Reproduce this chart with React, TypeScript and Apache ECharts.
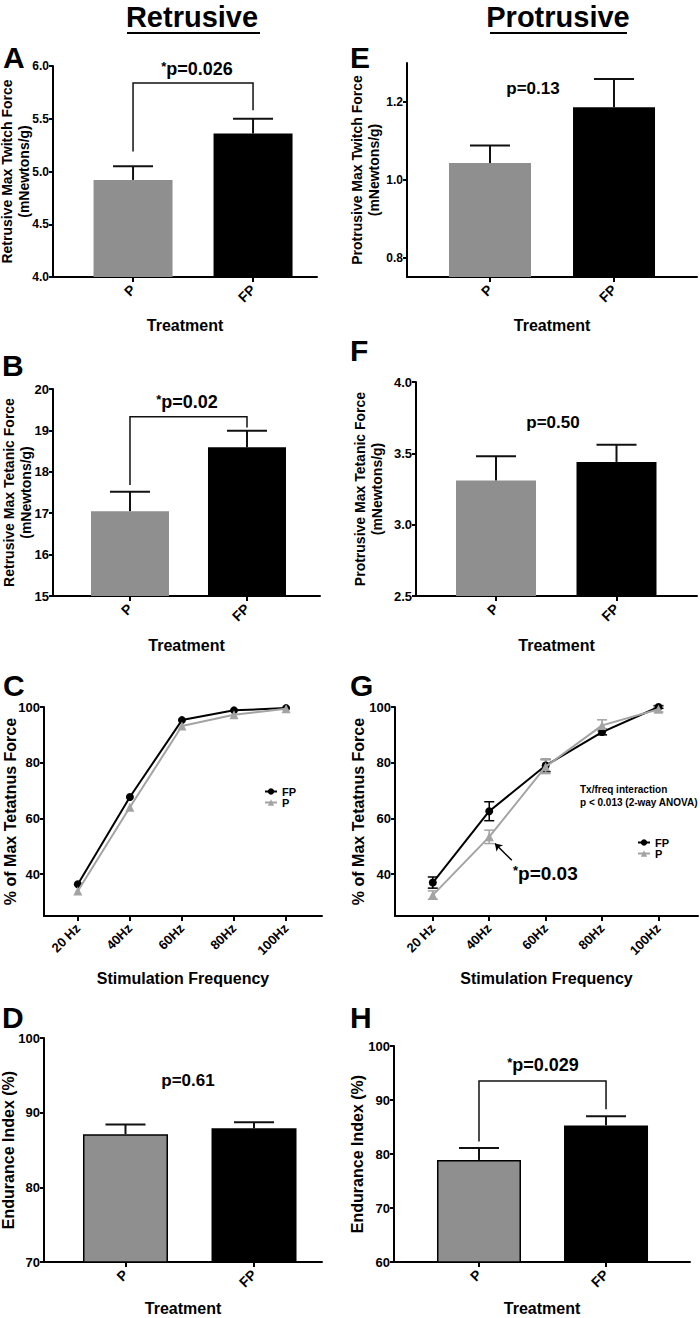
import React, { useEffect, useRef } from 'react';
import * as echarts from 'echarts';

const FONT = '"Liberation Sans", Arial, Helvetica, sans-serif';
const GREY = '#8f8f8f';
const LINE_GREY = '#a3a3a3';

// ---------- data ----------
const treatments = ['P', 'FP'];
const frequencies = ['20 Hz', '40Hz', '60Hz', '80Hz', '100Hz'];

const retrusiveTwitchMean = [4.92, 5.36];
const retrusiveTwitchSem = [0.13, 0.14];
const retrusiveTetanicMean = [17.05, 18.59];
const retrusiveTetanicSem = [0.47, 0.4];
const protrusiveTwitchMean = [1.043, 1.186];
const protrusiveTwitchSem = [0.045, 0.073];
const protrusiveTetanicMean = [3.31, 3.44];
const protrusiveTetanicSem = [0.17, 0.12];
const retrusiveEnduranceMean = [87.1, 87.9];
const retrusiveEnduranceSem = [1.3, 0.8];
const protrusiveEnduranceMean = [78.9, 85.3];
const protrusiveEnduranceSem = [2.2, 1.7];

const retrusiveFreqFP = [36.4, 67.7, 95.3, 98.8, 99.6];
const retrusiveFreqP = [34.0, 64.0, 93.2, 97.2, 99.4];
const protrusiveFreqFP = [37.0, 62.6, 79.0, 91.0, 100.0];
const protrusiveFreqFPSem = [2.0, 3.4, 2.2, 1.0, 0.5];
const protrusiveFreqP = [32.5, 53.4, 78.6, 93.4, 99.2];
const protrusiveFreqPSem = [1.5, 2.4, 2.5, 2.0, 1.0];

// brackets: [level, left leg end, right leg end]
const bracketA = [5.84, 5.19, 5.58];
const bracketB = [19.33, 17.68, 19.07];
const bracketH = [93.5, 82.3, 88.3];

// y tick labels
const ticksA = [4.0, 4.5, 5.0, 5.5, 6.0];
const ticksB = [15, 16, 17, 18, 19, 20];
const ticksE = [0.8, 1.0, 1.2];
const ticksF = [2.5, 3.0, 3.5, 4.0];
const ticksFreq = [40, 60, 80, 100];
const ticksD = [70, 80, 90, 100];
const ticksH = [60, 70, 80, 90, 100];

// arrow in G (data coords): from -> to
const arrowG = [[2.4, 45], [2.1, 51]];

// ---------- layout ----------
const BAR_PANELS: any[] = [
  { id: 'A', grid: { left: 53, top: 66, width: 264, height: 211 }, xRange: [0.333, 2.533], yRange: [4, 6], yTicks: ticksA, decimals: 1, tickFont: 12, yName: 'Retrusive Max Twitch Force\n(mNewtons/g)', yNameGap: 21, yNameSize: 14, means: retrusiveTwitchMean, sems: retrusiveTwitchSem, barWidth: 79, outline: false, xNameGap: 40, bracket: bracketA },
  { id: 'B', grid: { left: 53, top: 389, width: 267, height: 207 }, xRange: [0.342, 2.624], yRange: [15, 20], yTicks: ticksB, decimals: 0, tickFont: 13, yName: 'Retrusive Max Tetanic Force\n(mNewtons/g)', yNameGap: 19, yNameSize: 14, means: retrusiveTetanicMean, sems: retrusiveTetanicSem, barWidth: 78, outline: false, xNameGap: 41, bracket: bracketB },
  { id: 'E', grid: { left: 407, top: 63, width: 290, height: 214 }, xRange: [0.331, 2.669], yRange: [0.75, 1.3], yTicks: ticksE, decimals: 1, tickFont: 12, yName: 'Protrusive Max Twitch Force\n(mNewtons/g)', yNameGap: 25, yNameSize: 14, means: protrusiveTwitchMean, sems: protrusiveTwitchSem, barWidth: 82, outline: false, xNameGap: 40 },
  { id: 'F', grid: { left: 416, top: 382, width: 281, height: 214 }, xRange: [0.336, 2.668], yRange: [2.5, 4.0], yTicks: ticksF, decimals: 1, tickFont: 13, yName: 'Protrusive Max Tetanic Force\n(mNewtons/g)', yNameGap: 31, yNameSize: 14, means: protrusiveTetanicMean, sems: protrusiveTetanicSem, barWidth: 80, outline: false, xNameGap: 41 },
  { id: 'D', grid: { left: 44, top: 1038, width: 278, height: 224 }, xRange: [0.366, 2.529], yRange: [70, 100], yTicks: ticksD, decimals: 0, tickFont: 13, yName: 'Endurance Index (%)', yNameGap: 27, yNameSize: 16, means: retrusiveEnduranceMean, sems: retrusiveEnduranceSem, barWidth: 85, outline: true, xNameGap: 38 },
  { id: 'H', grid: { left: 394, top: 1046, width: 296, height: 216 }, xRange: [0.331, 2.661], yRange: [60, 100], yTicks: ticksH, decimals: 0, tickFont: 13, yName: 'Endurance Index (%)', yNameGap: 28, yNameSize: 16, means: protrusiveEnduranceMean, sems: protrusiveEnduranceSem, barWidth: 84, outline: true, xNameGap: 38, bracket: bracketH },
];

const LINE_PANELS: any[] = [
  { id: 'C', grid: { left: 44, top: 707, width: 278, height: 209 }, xRange: [0.35, 5.69], yNameGap: 26, fp: retrusiveFreqFP, p: retrusiveFreqP },
  { id: 'G', grid: { left: 395, top: 707, width: 303, height: 209 }, xRange: [0.33, 5.7], yNameGap: 29, fp: protrusiveFreqFP, p: protrusiveFreqP, fpSem: protrusiveFreqFPSem, pSem: protrusiveFreqPSem, arrow: arrowG },
];

const bold = (size: number, extra: any = {}) => ({ fontSize: size, fontWeight: 'bold', color: '#000', fontFamily: FONT, ...extra });

const upperErr = (params: any, api: any) => {
  const x = api.value(0), lo = api.value(1), hi = api.value(2);
  const a = api.coord([x, lo]);
  const b = api.coord([x, hi]);
  const st = { stroke: '#111', lineWidth: 2 };
  return {
    type: 'group',
    children: [
      { type: 'line', shape: { x1: a[0], y1: a[1], x2: b[0], y2: b[1] }, style: st },
      { type: 'line', shape: { x1: b[0] - 20, y1: b[1], x2: b[0] + 20, y2: b[1] }, style: st },
    ],
  };
};

const bothErr = (color: string) => (params: any, api: any) => {
  const x = api.value(0), lo = api.value(1), hi = api.value(2);
  const a = api.coord([x, lo]);
  const b = api.coord([x, hi]);
  const st = { stroke: color, lineWidth: 1.5 };
  return {
    type: 'group',
    children: [
      { type: 'line', shape: { x1: a[0], y1: a[1], x2: b[0], y2: b[1] }, style: st },
      { type: 'line', shape: { x1: a[0] - 5, y1: a[1], x2: a[0] + 5, y2: a[1] }, style: st },
      { type: 'line', shape: { x1: b[0] - 5, y1: b[1], x2: b[0] + 5, y2: b[1] }, style: st },
    ],
  };
};

const bracketRender = (params: any, api: any) => {
  const x1 = api.value(0), x2 = api.value(1), top = api.value(2), b1 = api.value(3), b2 = api.value(4);
  const pts = [api.coord([x1, b1]), api.coord([x1, top]), api.coord([x2, top]), api.coord([x2, b2])];
  return { type: 'polyline', shape: { points: pts }, style: { stroke: '#111', lineWidth: 1.5, fill: 'none' } };
};

function buildOption() {
  const grids: any[] = [];
  const xAxes: any[] = [];
  const yAxes: any[] = [];
  const series: any[] = [];
  const axisLine = { show: true, onZero: false, lineStyle: { color: '#000', width: 2 } };
  const tickStyle = { color: '#000', width: 2 };

  BAR_PANELS.forEach((p) => {
    const gi = grids.length;
    grids.push({ ...p.grid, containLabel: false, outerBoundsMode: 'none' });
    xAxes.push({
      type: 'value', gridIndex: gi, min: p.xRange[0], max: p.xRange[1],
      axisLine, splitLine: { show: false },
      axisTick: { show: true, length: 5, lineStyle: tickStyle, customValues: [1, 2] },
      axisLabel: { customValues: [1, 2], formatter: (v: number) => treatments[Math.round(v) - 1] ?? '', rotate: 45, margin: 10, ...bold(14) },
      name: 'Treatment', nameLocation: 'middle', nameGap: p.xNameGap, nameTextStyle: bold(16), nameMoveOverlap: false,
    });
    yAxes.push({
      type: 'value', gridIndex: gi, min: p.yRange[0], max: p.yRange[1],
      axisLine, splitLine: { show: false },
      axisTick: { show: true, length: 4, lineStyle: tickStyle, customValues: p.yTicks },
      axisLabel: { customValues: p.yTicks, formatter: (v: number) => v.toFixed(p.decimals), margin: 4, ...bold(p.tickFont) },
      name: p.yName, nameLocation: 'middle', nameRotate: 90, nameGap: p.yNameGap,
      nameTextStyle: bold(p.yNameSize, { lineHeight: 17 }), nameMoveOverlap: false,
    });
    series.push({
      type: 'bar', name: 'bars' + p.id, xAxisIndex: gi, yAxisIndex: gi, barWidth: p.barWidth, z: 2,
      data: p.means.map((m: number, k: number) => ({
        value: [k + 1, m],
        itemStyle: { color: k === 0 ? GREY : '#000', borderColor: '#000', borderWidth: p.outline ? 1.5 : 0 },
      })),
    });
    series.push({
      type: 'custom', name: 'err' + p.id, xAxisIndex: gi, yAxisIndex: gi, z: 3, clip: false,
      renderItem: upperErr,
      data: p.means.map((m: number, k: number) => [k + 1, m, m + p.sems[k]]),
    });
    if (p.bracket) {
      series.push({
        type: 'custom', name: 'bracket' + p.id, xAxisIndex: gi, yAxisIndex: gi, z: 3, clip: false,
        renderItem: bracketRender,
        data: [[1, 2, p.bracket[0], p.bracket[1], p.bracket[2]]],
      });
    }
  });

  LINE_PANELS.forEach((p) => {
    const gi = grids.length;
    const xs = frequencies.map((_, k) => k + 1);
    grids.push({ ...p.grid, containLabel: false, outerBoundsMode: 'none' });
    xAxes.push({
      type: 'value', gridIndex: gi, min: p.xRange[0], max: p.xRange[1],
      axisLine, splitLine: { show: false },
      axisTick: { show: true, length: 5, lineStyle: tickStyle, customValues: xs },
      axisLabel: { customValues: xs, formatter: (v: number) => frequencies[Math.round(v) - 1] ?? '', rotate: 45, margin: 10, ...bold(13) },
      name: 'Stimulation Frequency', nameLocation: 'middle', nameGap: 54, nameTextStyle: bold(16), nameMoveOverlap: false,
    });
    yAxes.push({
      type: 'value', gridIndex: gi, min: 25, max: 100,
      axisLine, splitLine: { show: false },
      axisTick: { show: true, length: 4, lineStyle: tickStyle, customValues: ticksFreq },
      axisLabel: { customValues: ticksFreq, formatter: (v: number) => String(v), margin: 4, ...bold(13) },
      name: '% of Max Tetatnus Force', nameLocation: 'middle', nameRotate: 90, nameGap: p.yNameGap,
      nameTextStyle: bold(16), nameMoveOverlap: false,
    });
    if (p.fpSem) {
      series.push({
        type: 'custom', name: 'errFP' + p.id, xAxisIndex: gi, yAxisIndex: gi, z: 2, clip: false,
        renderItem: bothErr('#000'),
        data: p.fp.map((v: number, k: number) => [k + 1, v - p.fpSem[k], v + p.fpSem[k]]),
      });
      series.push({
        type: 'custom', name: 'errP' + p.id, xAxisIndex: gi, yAxisIndex: gi, z: 2, clip: false,
        renderItem: bothErr(LINE_GREY),
        data: p.p.map((v: number, k: number) => [k + 1, v - p.pSem[k], v + p.pSem[k]]),
      });
    }
    series.push({
      type: 'line', name: 'FP', xAxisIndex: gi, yAxisIndex: gi, z: 3,
      data: p.fp.map((v: number, k: number) => [k + 1, v]),
      symbol: 'circle', symbolSize: 8, showSymbol: true,
      lineStyle: { color: '#000', width: 2 }, itemStyle: { color: '#000' },
    });
    const pSeries: any = {
      type: 'line', name: 'P', xAxisIndex: gi, yAxisIndex: gi, z: 4,
      data: p.p.map((v: number, k: number) => [k + 1, v]),
      symbol: 'triangle', symbolSize: 9, showSymbol: true,
      lineStyle: { color: LINE_GREY, width: 2 }, itemStyle: { color: LINE_GREY },
    };
    if (p.arrow) {
      pSeries.markLine = {
        silent: true, symbol: ['none', 'arrow'], symbolSize: 7, animation: false,
        lineStyle: { color: '#000', width: 1.5, type: 'solid' }, label: { show: false },
        data: [[{ coord: p.arrow[0] }, { coord: p.arrow[1] }]],
      };
    }
    series.push(pSeries);
  });

  const text = (t: string, x: number, y: number, size: number, align = 'center', extra: any = {}) => ({
    type: 'text', x, y, z: 10,
    style: { text: t, fontSize: size, fontWeight: 'bold', fontFamily: FONT, fill: '#000', align, verticalAlign: 'middle', ...extra },
  });
  const starText = (t: string, x: number, y: number, size: number, align = 'center') =>
    text('{s|*}{m|' + t + '}', x, y, size, align, {
      rich: {
        s: { fontSize: 13, fontWeight: 'bold', fontFamily: FONT, fill: '#000', verticalAlign: 'top' },
        m: { fontSize: size, fontWeight: 'bold', fontFamily: FONT, fill: '#000' },
      },
    });

  const graphic: any[] = [
    text('Retrusive', 192, 17, 29),
    { type: 'line', shape: { x1: 127, y1: 33, x2: 260, y2: 33 }, style: { stroke: '#000', lineWidth: 2 } },
    text('Protrusive', 558, 17, 29),
    { type: 'line', shape: { x1: 490, y1: 33, x2: 627, y2: 33 }, style: { stroke: '#000', lineWidth: 2 } },
    text('A', 3, 57, 30, 'left'),
    text('E', 350, 57, 30, 'left'),
    text('B', 2, 365, 30, 'left'),
    text('F', 350, 350, 30, 'left'),
    text('C', 3, 685, 30, 'left'),
    text('G', 350, 685, 30, 'left'),
    text('D', 2, 1017, 30, 'left'),
    text('H', 350, 1017, 30, 'left'),
    starText('p=0.026', 197, 69, 18),
    starText('p=0.02', 187, 402, 18),
    text('p=0.13', 533, 88, 17),
    text('p=0.50', 553, 422, 17),
    text('p=0.61', 188, 1080, 17),
    starText('p=0.029', 543, 1065, 18),
    starText('p=0.03', 513, 873, 19, 'left'),
    text('Tx/freq interaction\np < 0.013 (2-way ANOVA)', 580, 796, 10, 'left', { lineHeight: 13 }),
  ];

  const legendBase = {
    data: ['FP', 'P'], orient: 'vertical', itemWidth: 12, itemHeight: 8, itemGap: 0,
    selectedMode: false, textStyle: bold(11), padding: 0,
  };

  return {
    animation: false,
    backgroundColor: '#fff',
    textStyle: { fontFamily: FONT },
    grid: grids,
    xAxis: xAxes,
    yAxis: yAxes,
    series,
    graphic,
    legend: [
      { ...legendBase, left: 264, top: 786 },
      { ...legendBase, left: 637, top: 837 },
    ],
  };
}

export default function App() {
  const ref = useRef<HTMLDivElement>(null);
  useEffect(() => {
    document.body.style.margin = '0';
    const chart = echarts.init(ref.current as HTMLDivElement, null, { renderer: 'svg' });
    chart.setOption(buildOption() as any);
    return () => chart.dispose();
  }, []);
  return <div ref={ref} style={{ width: 700, height: 1318 }} />;
}
